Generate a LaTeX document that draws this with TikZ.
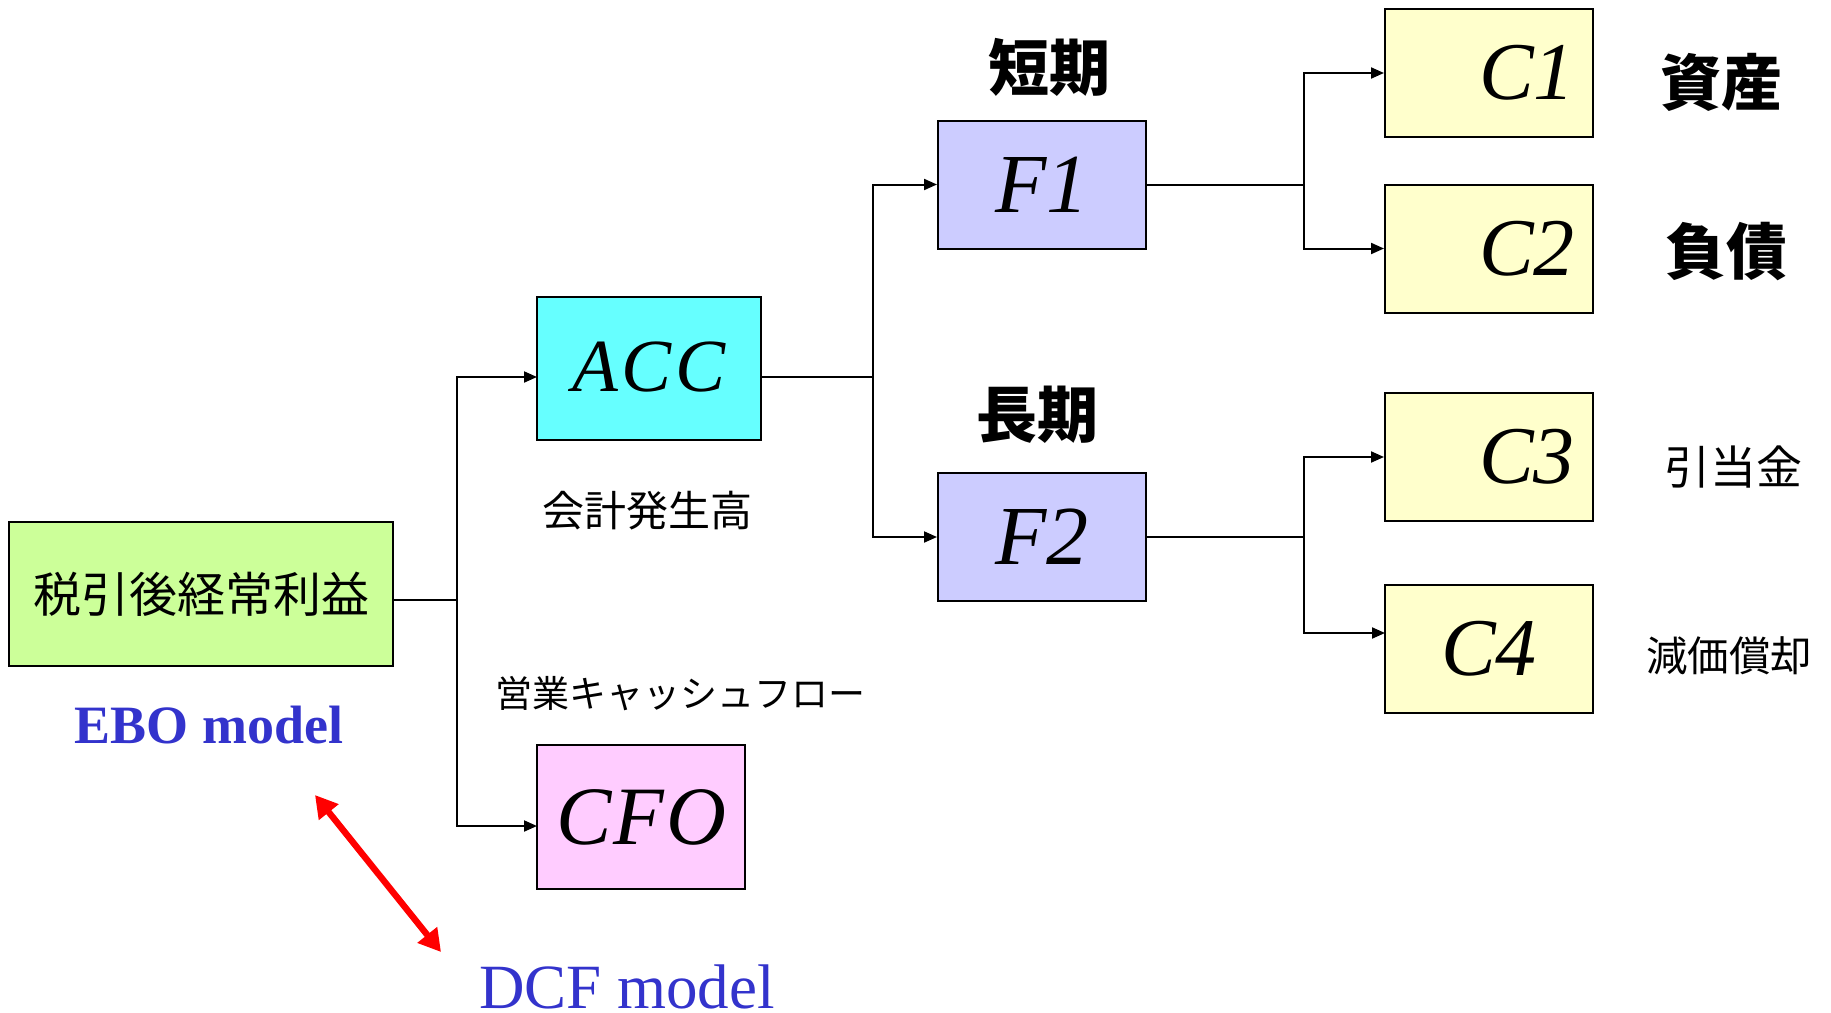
\documentclass[tikz,border=0pt]{standalone}
\usepackage{fontspec}
\setmainfont{Liberation Serif}
\newfontfamily\jp{Noto Sans CJK JP}
\usetikzlibrary{arrows.meta}
\definecolor{cgreen}{HTML}{CCFF99}
\definecolor{ccyan}{HTML}{66FFFF}
\definecolor{clav}{HTML}{CCCCFF}
\definecolor{cyel}{HTML}{FFFFCC}
\definecolor{cpink}{HTML}{FFCCFF}
\definecolor{cblue}{HTML}{3333CC}
\definecolor{cred}{HTML}{FF0000}
\tikzset{
  box/.style={draw, line width=1pt, inner sep=0pt},
  fbox/.style={box, fill=clav, minimum width=104pt, minimum height=64pt, font=\fontsize{42}{48}\selectfont\itshape},
  cbox/.style={box, fill=cyel, minimum width=104pt, minimum height=64pt, font=\fontsize{41}{48}\selectfont\itshape},
  ln/.style={line width=1pt},
  arr/.style={line width=1pt, -{Triangle[length=6.5pt,width=5.5pt]}},
  jbig/.style={inner sep=0pt, font=\jp\bfseries\fontsize{30.5}{34}\selectfont},
  jsm/.style={inner sep=0pt, font=\jp\fontsize{21}{25}\selectfont},
}
\begin{document}
\begin{tikzpicture}[x=0.5pt,y=-0.5pt]
\useasboundingbox (0,0) rectangle (1831,1012);
% boxes
\node[box, fill=cgreen, minimum width=192pt, minimum height=72pt, font=\jp\fontsize{24}{28}\selectfont] (green) at (201,594) {\raisebox{-3pt}{税引後経常利益}};
\node[box, fill=ccyan, minimum width=112pt, minimum height=71.5pt, font=\fontsize{37.5}{44}\selectfont\itshape] (acc) at (649,368.5) {\raisebox{2pt}{A\kern2pt C\kern2pt C}};
\node[box, fill=cpink, minimum width=104pt, minimum height=72pt, font=\fontsize{41.5}{48}\selectfont\itshape] (cfo) at (641,817) {C\kern1pt F\kern1pt O};
\node[fbox] (f1) at (1042,184.5) {F1};
\node[fbox] (f2) at (1042,537) {F2};
\node[cbox] (c1) at (1489,73) {\hspace*{38pt}C1};
\node[cbox] (c2) at (1489,248.5) {\hspace*{38pt}C2};
\node[cbox] (c3) at (1489,457) {\hspace*{38pt}C3};
\node[cbox] (c4) at (1489,648.5) {C4};
% labels
\node[jbig] (tanki) at (1049,67) {短期};
\node[jbig] (choki) at (1037,415) {長期};
\node[jbig] (shisan) at (1721,82) {資産};
\node[jbig] (fusai) at (1726,252) {負債};
\node[inner sep=0pt, font=\jp\fontsize{23}{27}\selectfont] (hikiate) at (1733,467) {引当金};
\node[inner sep=0pt, font=\jp\fontsize{20.75}{25}\selectfont] (genka) at (1729,656) {減価償却};
\node[jsm] (kaikei) at (647,511) {会計発生高};
\node[inner sep=0pt, font=\jp\fontsize{18.5}{22}\selectfont] (eigyo) at (680,694) {営業キャッシュフロー};
\node[inner sep=0pt, text=cblue, font=\bfseries\fontsize{27}{32}\selectfont] (ebo) at (209,725) {EBO model};
\node[inner sep=0pt, text=cblue, font=\fontsize{31.5}{36}\selectfont] (dcf) at (627,987) {DCF model};
% junctions
\coordinate (j0) at (457,600);
\coordinate (accin) at (537,377);
\coordinate (cfoin) at (537,826);
\coordinate (j1) at (873,377);
\coordinate (j2) at (1304,184.5);
\coordinate (j3) at (1304,537);
\coordinate (c4in) at (1385,633);
% connectors
\draw[ln] (green.east |- j0) -- (j0);
\draw[arr] (j0) |- (accin);
\draw[arr] (j0) |- (cfoin);
\draw[ln] (acc.east |- j1) -- (j1);
\draw[arr] (j1) |- (f1.west);
\draw[arr] (j1) |- (f2.west);
\draw[ln] (f1.east) -- (j2);
\draw[arr] (j2) |- (c1.west);
\draw[arr] (j2) |- (c2.west);
\draw[ln] (f2.east) -- (j3);
\draw[arr] (j3) |- (c3.west);
\draw[arr] (j3) |- (c4in);
% red double arrow
\coordinate (ra) at (315,795);
\coordinate (rb) at (441,952);
\draw[cred, line width=3.2pt, {Triangle[length=11pt,width=12pt]}-{Triangle[length=11pt,width=12pt]}] (ra) -- (rb);
\end{tikzpicture}
\end{document}
